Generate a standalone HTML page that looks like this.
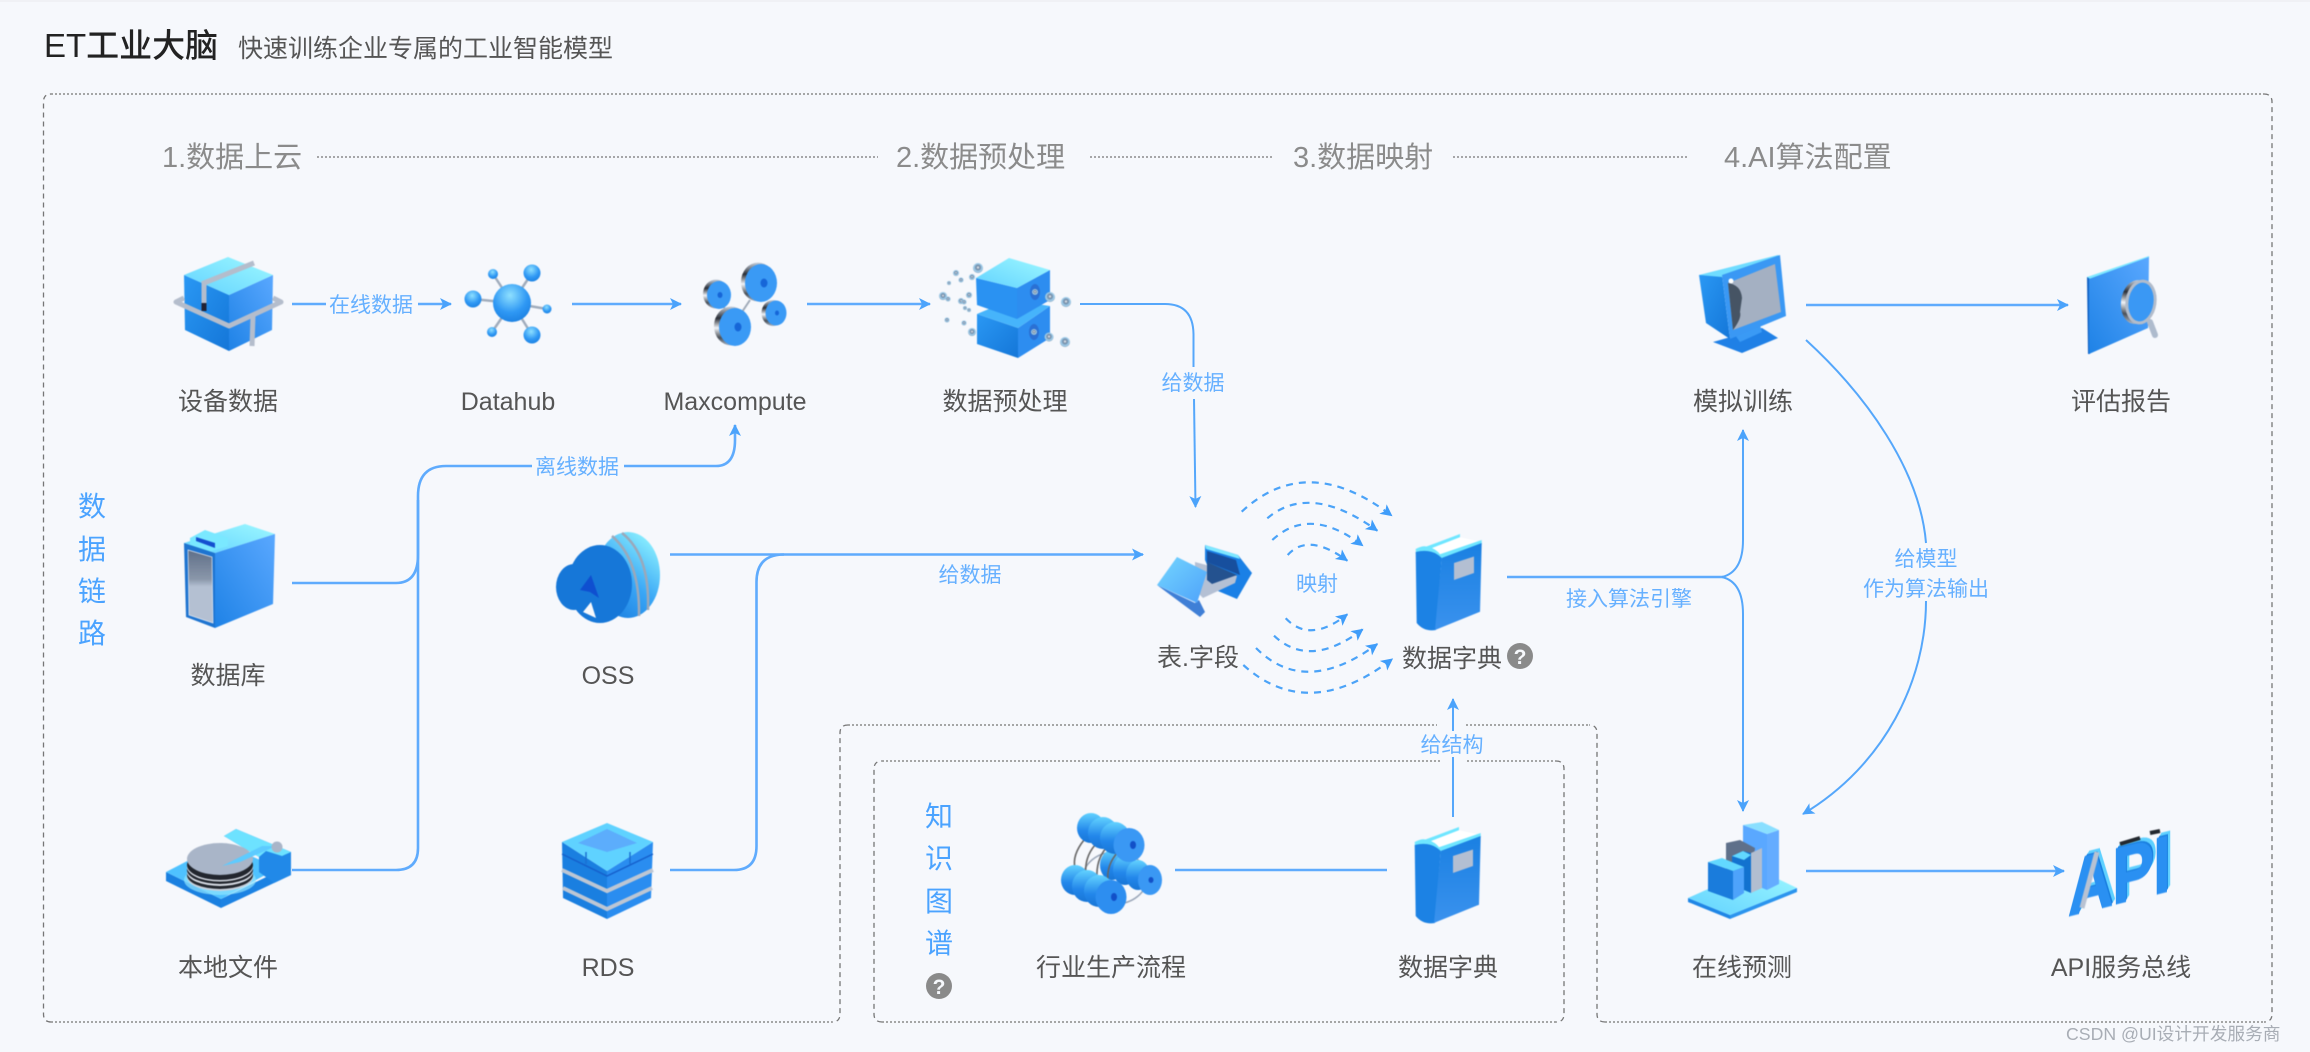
<!DOCTYPE html>
<html lang="zh">
<head>
<meta charset="utf-8">
<title>ET工业大脑</title>
<style>
html,body{margin:0;padding:0;background:#f6f8fc;}
body{width:2310px;height:1052px;position:relative;overflow:hidden;}
svg{position:absolute;left:0;top:0;}
text{font-family:"Liberation Sans","Noto Sans CJK SC",sans-serif;}
.lb{font-size:25px;fill:#555;text-anchor:middle;}
.st{font-size:29px;fill:#8b8b8b;}
.bl{font-size:21px;fill:#66b0ff;text-anchor:middle;}
.vt{font-size:28px;fill:#4ba3ff;text-anchor:middle;}
.ln{fill:none;stroke:#5fabfd;stroke-width:2.6;}
.tn{fill:none;stroke:#55a7fb;stroke-width:2;}
.dr{fill:none;stroke:#4ba3f8;stroke-width:2.2;stroke-dasharray:7 6;}
.fr{fill:none;stroke:#767676;stroke-width:1.3;stroke-dasharray:5 4;}
.fh{fill:none;stroke:#8a8a8a;stroke-width:1.6;stroke-dasharray:2 2;}
.dt{fill:none;stroke:#8b8b8b;stroke-width:1.6;stroke-dasharray:2 2;}
.ic{filter:blur(.5px);}
#api{position:absolute;left:2068px;top:839px;font:bold 80px "Liberation Sans",sans-serif;color:#2a90f2;line-height:100px;
letter-spacing:-1px;transform-origin:0 100%;transform:skewY(-14deg) scaleX(.78);-webkit-text-stroke:1.5px #2a90f2;
text-shadow:1px -1px 0 #1a7fe0,2px -2px 0 #1a7fe0,3px -3px 0 #5fd0ff,4px -4px 0 #5fd0ff,5px -5px 0 #5fd0ff;filter:blur(.4px);}
</style>
</head>
<body>
<svg width="2310" height="1052" viewBox="0 0 2310 1052" xmlns="http://www.w3.org/2000/svg">
<defs>
<linearGradient id="top" x1="0" y1="1" x2="1" y2="0"><stop offset="0" stop-color="#62d2ff"/><stop offset="1" stop-color="#9df8ff"/></linearGradient>
<linearGradient id="fr" x1="0" y1="0" x2="1" y2="1"><stop offset="0" stop-color="#2a98f4"/><stop offset="1" stop-color="#1476d8"/></linearGradient>
<linearGradient id="rt" x1="1" y1="0" x2="0" y2="1"><stop offset="0" stop-color="#5aa8ff"/><stop offset="1" stop-color="#1e82e6"/></linearGradient>
<linearGradient id="bk" x1="0" y1="0" x2="0" y2="1"><stop offset="0" stop-color="#1a80e2"/><stop offset="1" stop-color="#3a92ee"/></linearGradient>
<linearGradient id="sv" x1="0" y1="0" x2="0" y2="1"><stop offset="0" stop-color="#5f6f88"/><stop offset=".4" stop-color="#8a97aa"/><stop offset=".5" stop-color="#b4c0d2"/><stop offset="1" stop-color="#b4c0d2"/></linearGradient>
<linearGradient id="rl" x1="0" y1="0" x2="0" y2="1"><stop offset="0" stop-color="#62d2ff"/><stop offset=".6" stop-color="#2286ea"/><stop offset="1" stop-color="#1876d6"/></linearGradient>
<linearGradient id="cy" x1=".2" y1="1" x2=".8" y2="0"><stop offset="0" stop-color="#1a7ee0"/><stop offset=".45" stop-color="#39a6f6"/><stop offset="1" stop-color="#90f4ff"/></linearGradient>
<linearGradient id="mt" x1="0" y1="0" x2="0" y2="1"><stop offset="0" stop-color="#c9d2de"/><stop offset=".3" stop-color="#2a2e36"/><stop offset=".55" stop-color="#f2f4f8"/><stop offset=".8" stop-color="#4a5058"/><stop offset="1" stop-color="#aab6c6"/></linearGradient>
<linearGradient id="lt" x1="0" y1="0" x2="1" y2="1"><stop offset="0" stop-color="#74d6ff"/><stop offset="1" stop-color="#4ea2fa"/></linearGradient>
<radialGradient id="bl" cx=".45" cy=".3" r=".75"><stop offset="0" stop-color="#8ee0ff"/><stop offset=".6" stop-color="#2f98f4"/><stop offset="1" stop-color="#1a7fe0"/></radialGradient>
<radialGradient id="ag" cx=".5" cy=".45" r=".55"><stop offset="0" stop-color="#fff"/><stop offset=".35" stop-color="#6e86a2"/><stop offset=".75" stop-color="#a4d4f2"/><stop offset="1" stop-color="#7f9cb6"/></radialGradient>
<marker id="ar" markerUnits="userSpaceOnUse" markerWidth="14" markerHeight="14" refX="11" refY="6" orient="auto"><path d="M0,0 L12,6 L0,12 L3,6 Z" fill="#4ba3fb"/></marker>
<marker id="ad" markerUnits="userSpaceOnUse" markerWidth="14" markerHeight="14" refX="11" refY="6" orient="auto"><path d="M0,0 L12,6 L0,12 L3,6 Z" fill="#3f9dfa"/></marker>
<g id="book">
<polygon points="1421.700,548.300 1460,534 1460,537.300 1426,550.500" fill="#6fe6ff"/>
<polygon points="1425,550.700 1460,537.300 1481,541.700 1441.700,557" fill="#fff"/>
<path d="M1415.700,549 Q1424,544 1432,548 Q1438,551 1440,554.300 L1481.700,540 L1481.700,544 L1441.700,559 Q1436,553 1428,552 Q1420,552 1416,555Z" fill="#6fe6ff"/>
<path d="M1415.700,552 Q1432,548 1441.700,558 L1436,630 Q1424,632 1416.700,623Z" fill="#1c82e4"/>
<polygon points="1441.700,558 1481.700,543 1480,611.700 1435,630" fill="url(#bk)"/>
<polygon points="1454,563 1474,556.500 1474,573 1454,580" fill="#b3bfd2"/>
</g>
</defs>

<rect x="0" y="0" width="2310" height="2" fill="#f0f1f5"/>

<!-- frames -->
<path class="fh" d="M51,94 H2264 M1605,1022 H2264 M1466,725 H1589 M848,725 H1437 M51,1022 H832"/>
<path class="fr" d="M2264,94 Q2272,94 2272,102 V1014 Q2272,1022 2264,1022 M1605,1022 Q1597,1022 1597,1014 V733 Q1597,725 1589,725 M848,725 Q840,725 840,733 V1014 Q840,1022 832,1022 M51,1022 Q43.500,1022 43.500,1014 V102 Q43.500,94 51,94"/>
<path class="fh" d="M882,761 H1441 M1467,761 H1556 M882,1022 H1556"/>
<path class="fr" d="M1556,761 Q1564,761 1564,769 V1014 Q1564,1022 1556,1022 M882,1022 Q874,1022 874,1014 V769 Q874,761 882,761"/>

<!-- title -->
<text x="44" y="57" font-size="33" font-weight="500" fill="#222">ET工业大脑</text>
<text x="238" y="57" font-size="25" fill="#555">快速训练企业专属的工业智能模型</text>

<!-- steps -->
<text class="st" x="162" y="167">1.数据上云</text>
<line class="dt" x1="317" y1="157" x2="878" y2="157"/>
<text class="st" x="896" y="167">2.数据预处理</text>
<line class="dt" x1="1090" y1="157" x2="1273" y2="157"/>
<text class="st" x="1293" y="167">3.数据映射</text>
<line class="dt" x1="1453" y1="157" x2="1687" y2="157"/>
<text class="st" x="1724" y="167">4.AI算法配置</text>

<!-- side labels -->
<text class="vt" x="92" y="516">数</text><text class="vt" x="92" y="559">据</text><text class="vt" x="92" y="601">链</text><text class="vt" x="92" y="643">路</text>
<text class="vt" x="939" y="826">知</text><text class="vt" x="939" y="868">识</text><text class="vt" x="939" y="911">图</text><text class="vt" x="939" y="953">谱</text>
<circle cx="939" cy="986" r="13" fill="#8a8a8a"/><text x="939" y="994" font-size="21" font-weight="700" fill="#f6f8fc" text-anchor="middle">?</text>
<circle cx="1520" cy="656" r="13" fill="#8a8a8a"/><text x="1520" y="664" font-size="21" font-weight="700" fill="#f6f8fc" text-anchor="middle">?</text>

<!-- connectors -->
<line class="ln" x1="292" y1="304" x2="326" y2="304"/>
<line class="ln" x1="418" y1="304" x2="451" y2="304" marker-end="url(#ar)"/>
<text class="bl" x="371" y="312">在线数据</text>
<line class="ln" x1="572" y1="304" x2="681" y2="304" marker-end="url(#ar)"/>
<line class="ln" x1="807" y1="304" x2="930" y2="304" marker-end="url(#ar)"/>
<path class="tn" d="M1080,304 H1165 Q1193,304 1193.500,334 V367"/>
<path class="tn" d="M1194,399 L1195.500,507" marker-end="url(#ar)"/>
<text class="bl" x="1193" y="390">给数据</text>

<path class="ln" d="M292,583 H396 Q418,583 418,555 V496 Q418,466 446,466 H532"/>
<path class="ln" d="M292,870 H396 Q418,870 418,848 V500"/>
<path class="ln" d="M624,466 H716 Q735,466 735,440 V425" marker-end="url(#ar)"/>
<text class="bl" x="577" y="474">离线数据</text>

<path class="ln" d="M670,554.500 H1143" marker-end="url(#ar)"/>
<path class="ln" d="M670,870 H734 Q756.500,870 756.500,846 V582 Q756.500,554.500 784,554.500"/>
<text class="bl" x="970" y="582">给数据</text>

<path class="ln" d="M1507,577 H1724"/>
<path class="tn" d="M1722,577 Q1743,572 1743,540 V430" marker-end="url(#ar)"/>
<path class="tn" d="M1722,577 Q1743,582 1743,614 V811" marker-end="url(#ar)"/>
<text class="bl" x="1629" y="606">接入算法引擎</text>

<path class="tn" d="M1806,340 C1866,395 1920,470 1926,543"/>
<path class="tn" d="M1926,601 C1926,680 1885,765 1803,814" marker-end="url(#ar)"/>
<text class="bl" x="1926" y="566">给模型</text>
<text class="bl" x="1926" y="596">作为算法输出</text>

<line class="ln" x1="1806" y1="305" x2="2068" y2="305" marker-end="url(#ar)"/>
<line class="ln" x1="1806" y1="871" x2="2064" y2="871" marker-end="url(#ar)"/>
<line class="ln" x1="1175" y1="870" x2="1387" y2="870"/>
<line class="tn" x1="1453" y1="817" x2="1453" y2="757"/>
<line class="tn" x1="1453" y1="731" x2="1453" y2="699" marker-end="url(#ar)"/>
<text class="bl" x="1452" y="752">给结构</text>

<!-- mapping arcs -->
<path class="dr" d="M1241.700,511.700 Q1307,451 1391.700,515.700" marker-end="url(#ad)"/>
<path class="dr" d="M1267.300,518.300 Q1310,482 1377.300,530.700" marker-end="url(#ad)"/>
<path class="dr" d="M1272.300,540 Q1310,505 1362.700,545.700" marker-end="url(#ad)"/>
<path class="dr" d="M1287.700,555 Q1308,532 1347.300,560.700" marker-end="url(#ad)"/>
<path class="dr" d="M1285.700,618.300 Q1310,644 1347.300,614.300" marker-end="url(#ad)"/>
<path class="dr" d="M1274,635.700 Q1310,669.500 1362.700,629.300" marker-end="url(#ad)"/>
<path class="dr" d="M1256,648 Q1305,697.400 1377.300,644" marker-end="url(#ad)"/>
<path class="dr" d="M1243.300,665 Q1308,723.400 1392.300,659" marker-end="url(#ad)"/>
<text class="bl" x="1317" y="591">映射</text>

<!-- node labels -->
<text class="lb" x="228" y="410">设备数据</text>
<text class="lb" x="508" y="410">Datahub</text>
<text class="lb" x="735" y="410">Maxcompute</text>
<text class="lb" x="1005" y="410">数据预处理</text>
<text class="lb" x="1743" y="410">模拟训练</text>
<text class="lb" x="2121" y="410">评估报告</text>
<text class="lb" x="228" y="684">数据库</text>
<text class="lb" x="608" y="684">OSS</text>
<text class="lb" x="1198" y="666">表.字段</text>
<text class="lb" x="1452" y="667">数据字典</text>
<text class="lb" x="228" y="976">本地文件</text>
<text class="lb" x="608" y="976">RDS</text>
<text class="lb" x="1111" y="976">行业生产流程</text>
<text class="lb" x="1448" y="976">数据字典</text>
<text class="lb" x="1742" y="976">在线预测</text>
<text class="lb" x="2121" y="976">API服务总线</text>

<text x="2066" y="1040" font-size="17.700" fill="#a8adb5">CSDN @UI设计开发服务商</text>

<g class="ic">
<!-- ICON: device box -->
<polygon points="184,275 229,295 229,351 185,330" fill="url(#fr)"/>
<polygon points="229,295 273,275 272,330 229,351" fill="url(#rt)"/>
<polygon points="228,257 273,275 229,295 184,275" fill="url(#top)"/>
<polyline points="184,298 176,302 229,326 281,302 273,298" fill="none" stroke="#b4bdcc" stroke-width="5" stroke-linejoin="round"/>
<polyline points="254,263 204,283 204,311" fill="none" stroke="#b4bdcc" stroke-width="5"/>
<line x1="204" y1="303" x2="204" y2="311" stroke="#223" stroke-width="5"/>
<polyline points="253,316 252,346" fill="none" stroke="#b4bdcc" stroke-width="5"/>

<!-- ICON: datahub -->
<g stroke="#a0acbc" stroke-width="2.500">
<line x1="512" y1="303" x2="532" y2="273"/><line x1="512" y1="303" x2="493" y2="274"/><line x1="512" y1="303" x2="473" y2="299"/><line x1="512" y1="303" x2="547" y2="309"/><line x1="512" y1="303" x2="532" y2="335"/><line x1="512" y1="303" x2="492" y2="332"/>
</g>
<circle cx="512" cy="303" r="19" fill="url(#bl)"/>
<circle cx="532" cy="273" r="8.500" fill="url(#bl)"/><circle cx="493" cy="274" r="5" fill="url(#bl)"/><circle cx="473" cy="299" r="8.500" fill="url(#bl)"/><circle cx="547" cy="309" r="4.500" fill="url(#bl)"/><circle cx="532" cy="335" r="8.500" fill="url(#bl)"/><circle cx="492" cy="332" r="5" fill="url(#bl)"/>

<!-- ICON: maxcompute -->
<line x1="750" y1="300" x2="740" y2="315" stroke="#a0aab8" stroke-width="2"/><line x1="722" y1="305" x2="730" y2="315" stroke="#a0aab8" stroke-width="2"/>
<ellipse cx="758" cy="282" rx="17" ry="19.500" fill="url(#mt)"/><ellipse cx="761" cy="283" rx="16" ry="19" fill="#3a9af5"/><ellipse cx="764" cy="283" rx="3.500" ry="4.500" fill="#1666d8"/>
<ellipse cx="716" cy="294" rx="13" ry="14.500" fill="url(#mt)"/><ellipse cx="719" cy="295" rx="12" ry="14" fill="#3a9af5"/><ellipse cx="720" cy="295" rx="2.500" ry="3" fill="#1666d8"/>
<ellipse cx="731" cy="326" rx="17" ry="19.500" fill="url(#mt)"/><ellipse cx="735" cy="327" rx="16" ry="19" fill="#3a9af5"/><ellipse cx="738" cy="327" rx="3.500" ry="4.500" fill="#1666d8"/>
<ellipse cx="773" cy="313" rx="11.500" ry="13" fill="url(#mt)"/><ellipse cx="776" cy="313" rx="10.500" ry="12.500" fill="#3a9af5"/><ellipse cx="777" cy="313" rx="2" ry="2.500" fill="#1666d8"/>

<!-- ICON: preprocess -->
<polygon points="977,314 1018,328 1018,358 977,344" fill="url(#fr)"/>
<polygon points="1018,328 1050,306 1050,338 1018,358" fill="#2d8df0"/>
<polygon points="977,314 1010,300 1050,306 1018,328" fill="#46b4fb"/>
<polygon points="976,278 1017,288 1017,319 977,305" fill="#2a92f2"/>
<polygon points="1017,288 1050,270 1050,300 1017,319" fill="#2d8df0"/>
<polygon points="1009,258 1050,270 1017,288 976,278" fill="url(#top)"/>
<ellipse cx="1035" cy="292" rx="5" ry="8" fill="#2a70d4"/><ellipse cx="1034" cy="332" rx="5" ry="8" fill="#2a70d4"/>
<g fill="url(#ag)">
<circle cx="1035" cy="292" r="3"/><circle cx="1034" cy="332" r="3"/>
<circle cx="978" cy="268" r="5"/><circle cx="956" cy="273" r="3"/><circle cx="972" cy="277" r="3"/><circle cx="961" cy="280" r="2.500"/><circle cx="949" cy="283" r="2"/><circle cx="943" cy="296" r="4"/><circle cx="948" cy="299" r="2.500"/><circle cx="969" cy="295" r="3"/><circle cx="961" cy="301" r="3"/><circle cx="964" cy="302" r="2.500"/><circle cx="965" cy="308" r="2"/><circle cx="969" cy="310" r="2"/><circle cx="947" cy="320" r="2.500"/><circle cx="964" cy="323" r="2.500"/><circle cx="972" cy="332" r="4"/><circle cx="1050" cy="297" r="5"/><circle cx="1066" cy="302" r="5"/><circle cx="1049" cy="337" r="4.500"/><circle cx="1065" cy="342" r="5"/>
</g>

<!-- ICON: monitor -->
<polygon points="1713,342 1762,328 1778,338 1742,353" fill="#1f80e6"/>
<polygon points="1735,335 1760,325 1762,332 1740,342" fill="#3a9af5"/>
<polygon points="1699,275 1722,275 1730,339 1706,323" fill="url(#fr)"/>
<polygon points="1699,275 1778,255 1780,257 1722,277" fill="#6fdcff"/>
<polygon points="1722,275 1780,255 1786,316 1730,339" fill="#3a98f4"/>
<polygon points="1728,283 1775,264 1781,312 1733,330" fill="#a4b0c2"/>
<path d="M1728,283 Q1741,285 1742,298 L1740,312 Q1742,318 1733,330Z" fill="#465464"/>
<circle cx="1731" cy="281" r="2.500" fill="#fff"/>

<!-- ICON: report -->
<polygon points="2087,277 2149,256 2149,258 2089,281" fill="#7ee8ff"/>
<polygon points="2087,277 2090,279 2090,354 2088,354" fill="#1262c4"/>
<polygon points="2089,279 2149,257 2148,328 2089,354" fill="url(#rt)"/>
<line x1="2150" y1="322" x2="2155" y2="335" stroke="#aebbcd" stroke-width="6" stroke-linecap="round"/>
<ellipse cx="2136" cy="302" rx="15" ry="22" fill="url(#mt)" transform="rotate(8 2136 302)"/>
<ellipse cx="2141" cy="302" rx="14" ry="21" fill="#3a98f4" stroke="#b2bccb" stroke-width="3" transform="rotate(8 2141 302)"/>

<!-- ICON: database -->
<polygon points="184,543 245,524 275,534 215,553" fill="url(#top)"/>
<polygon points="190,538 205,530 228,538 228,546 205,553 190,545" fill="#7ae8ff"/>
<polygon points="196,537 215,543 215,548 196,541" fill="#1450d0"/>
<polygon points="215,553 275,534 273,604 215,628" fill="url(#rt)"/>
<polygon points="184,543 215,553 215,628 186,617" fill="#1e74d0"/>
<polygon points="188,550 212,557 213,623 189,615" fill="url(#sv)" stroke="#e4e9f2" stroke-width=".7"/>

<!-- ICON: OSS -->
<ellipse cx="628" cy="575" rx="32" ry="43" fill="url(#cy)"/>
<path d="M622,533 Q650,555 648,610" fill="none" stroke="#9ba8ba" stroke-width="2.500"/>
<path d="M612,536 Q640,560 639,616" fill="none" stroke="#9ba8ba" stroke-width="2.500"/>
<ellipse cx="600" cy="584" rx="32" ry="39" fill="#1677d8"/>
<ellipse cx="574" cy="587" rx="18" ry="23" fill="#1677d8"/>
<polygon points="583,612 591,602 596,618" fill="#f6f8fc"/>
<polygon points="591,575 580,590 590,592 599,598" fill="#0f4fd0"/>

<!-- ICON: local file -->
<polygon points="166,872 221,899 221,908 166,881" fill="#1a80e0"/>
<polygon points="221,899 291,865 291,875 221,908" fill="#1b82e3"/>
<polygon points="166,872 222,843 278,868 221,899" fill="#4fc2ff"/>
<polygon points="224,836 236,829 291,852 291,875 274,883 259,872 259,857" fill="#2189e8"/>
<polygon points="224,836 236,829 291,852 282,856 266,851 259,857" fill="#6de2ff"/>
<ellipse cx="220" cy="880" rx="36" ry="15" fill="#8fe4ff" opacity=".7"/>
<ellipse cx="220" cy="877" rx="33" ry="14" fill="#c8d0dc"/><ellipse cx="220" cy="875" rx="33" ry="14" fill="#22262e"/><ellipse cx="220" cy="872" rx="33" ry="14" fill="#d8dde6"/><ellipse cx="220" cy="870" rx="33" ry="14" fill="#22262e"/><ellipse cx="220" cy="867" rx="33" ry="14.500" fill="#d8dde6"/><ellipse cx="220" cy="865" rx="33" ry="15" fill="#22262e"/>
<ellipse cx="220" cy="859" rx="33" ry="16" fill="#a9b5c8"/>
<polygon points="222,866 262,846 276,846 240,862" fill="#5dcbff"/>
<circle cx="277" cy="847" r="5.500" fill="#a9b5c8"/>

<!-- ICON: RDS -->
<polygon points="562,842 607,871 607,919 563,898" fill="#1a7fe0"/>
<polygon points="607,871 653,842 651,898 607,919" fill="#2a8df0"/>
<polygon points="607,823 653,842 607,871 562,842" fill="#5fd2ff"/>
<polygon points="607,829 637,843 607,852 578,843" fill="#5cadfc"/>
<polyline points="562,854 607,876 653,854" fill="none" stroke="#1560cc" stroke-width="1.500"/>
<line x1="586" y1="852" x2="586" y2="864" stroke="#1a6fd2" stroke-width="1.500"/><line x1="630" y1="852" x2="630" y2="864" stroke="#1a6fd2" stroke-width="1.500"/>
<polyline points="562,870 607,891 653,870" fill="none" stroke="#bcc6d4" stroke-width="4"/>
<polyline points="563,888 607,909 652,888" fill="none" stroke="#bcc6d4" stroke-width="4"/>

<!-- ICON: rollers -->
<ellipse cx="1115" cy="878" rx="32" ry="26" fill="none" stroke="#9aa6b8" stroke-width="1.500"/>
<g fill="url(#rl)"><ellipse cx="1112" cy="865" rx="12" ry="15"/><ellipse cx="1125" cy="870" rx="12" ry="15"/><ellipse cx="1138" cy="875" rx="12" ry="15"/></g>
<ellipse cx="1150" cy="880" rx="12" ry="15" fill="#3a98f4"/><ellipse cx="1151" cy="880" rx="2.500" ry="3" fill="#1250c8"/>
<g fill="none" stroke="#666" stroke-width="1.600">
<path d="M1084,840 Q1072,855 1075,868"/><path d="M1095,845 Q1084,858 1086,875"/><path d="M1106,848 Q1096,860 1097,878"/><path d="M1118,852 Q1106,865 1108,882"/>
</g>
<g fill="url(#rl)"><ellipse cx="1091" cy="828" rx="14" ry="15"/><ellipse cx="1103" cy="833" rx="15" ry="16"/><ellipse cx="1115" cy="838" rx="15" ry="16"/></g>
<ellipse cx="1129" cy="845" rx="15.500" ry="17" fill="#3a98f4"/><ellipse cx="1133" cy="845" rx="3" ry="4" fill="#1250c8"/>
<g fill="url(#rl)"><ellipse cx="1075" cy="880" rx="14" ry="15"/><ellipse cx="1087" cy="886" rx="15" ry="16"/><ellipse cx="1099" cy="891" rx="15" ry="16"/></g>
<ellipse cx="1111" cy="897" rx="15.500" ry="17" fill="#2d8ef0"/><ellipse cx="1114" cy="897" rx="3" ry="4" fill="#1250c8"/>

<!-- ICON: books -->
<use href="#book"/>
<use href="#book" transform="translate(-1 293)"/>

<!-- ICON: table -->
<polygon points="1205,545 1238,555 1252,573 1237,599 1218,591 1205,560" fill="#1a80e6"/>
<polygon points="1205,545 1238,555 1240,559 1206,549" fill="#7ee8ff"/>
<polygon points="1207,551 1236,560 1240,575 1207,562" fill="#174f9e"/>
<polygon points="1195,562 1210,566 1237,576 1235,583 1203,598 1195,590" fill="#b4c0d4"/>
<polygon points="1207,562 1237,575 1212,584 1207,580" fill="#24528f"/>
<polygon points="1157,585 1195,603 1199,600 1205,612 1200,617" fill="#3f7fd6"/>
<polygon points="1157,585 1177,557 1207,572 1197,603" fill="url(#lt)"/>

<!-- ICON: chart -->
<polygon points="1688,898 1730,915 1730,919 1688,902" fill="#1f86e6"/>
<polygon points="1730,915 1797,888 1797,892 1730,919" fill="#2b94ee"/>
<polygon points="1688,898 1755,868 1797,888 1730,915" fill="url(#top)"/>
<polygon points="1743,825 1767,834 1767,890 1743,880" fill="#5aa8ff"/>
<polygon points="1767,834 1779,830 1779,884 1767,890" fill="#64acff"/>
<polygon points="1743,825 1762,822 1779,830 1767,834" fill="#8adfff"/>
<polygon points="1726,843 1740,840 1755,848 1751,880 1726,870" fill="#5f708a"/>
<polygon points="1732,856 1743,851 1751,853 1751,893 1732,885" fill="#1272cf"/>
<polygon points="1732,856 1743,851 1751,855 1744,860" fill="#62d8ff"/>
<polygon points="1751,853 1762,848 1762,888 1751,893" fill="#b2bed0"/>
<polygon points="1708,891 1733,900 1733,871 1708,862" fill="#1a7cdc"/>
<polygon points="1733,871 1744,867 1744,893 1733,900" fill="#4ea3fb"/>
<polygon points="1708,862 1722,858 1744,867 1733,871" fill="#62d8ff"/>
</g>
</svg>
<div id="api">API</div>
<svg width="2310" height="1052" viewBox="0 0 2310 1052" xmlns="http://www.w3.org/2000/svg" style="pointer-events:none">
<g class="ic">
<line x1="2082" y1="908" x2="2097" y2="852" stroke="#b8c2d2" stroke-width="5"/>
<line x1="2120" y1="844" x2="2140" y2="838" stroke="#23282f" stroke-width="4"/>
<line x1="2150" y1="833" x2="2160" y2="831" stroke="#23282f" stroke-width="4"/>
</g>
</svg>
</body>
</html>
